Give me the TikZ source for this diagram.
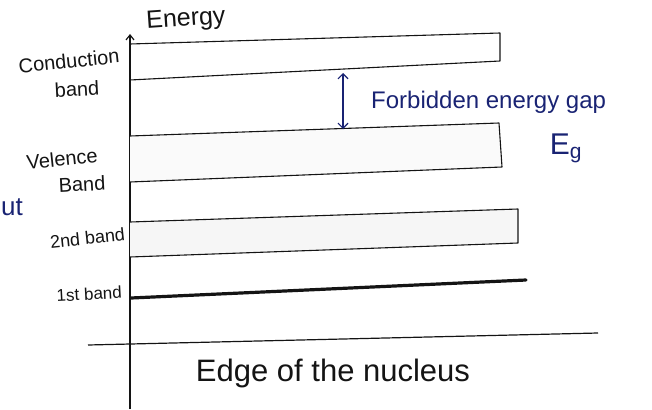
\documentclass[tikz,border=0pt]{standalone}
\usepackage{fontspec}
\setmainfont{Liberation Sans}
\usetikzlibrary{arrows.meta}
\definecolor{inkblue}{RGB}{25,35,115}
\definecolor{inkblack}{RGB}{20,20,20}
\begin{document}
\begin{tikzpicture}[x=1pt,y=-1pt,
  band/.style={draw=inkblack, line width=1.1pt, line join=round},
  axisline/.style={draw=inkblack, line width=1.2pt},
  lbl/.style={text=inkblack, font=\fontsize{18}{17}\selectfont, inner sep=0pt},
  bluelbl/.style={text=inkblue, font=\fontsize{24}{24}\selectfont, inner sep=0pt}]
\useasboundingbox (0,0) rectangle (652,409);
% axes
\coordinate (axtop) at (130,34);
\coordinate (axbot) at (130,409);
\coordinate (baseL) at (88,345);
\coordinate (baseR) at (598,333);
\draw[axisline, -{Straight Barb[length=5pt,width=8pt]}] (axbot) -- (axtop);
\draw[axisline] (baseL) -- (baseR);
% conduction band
\draw[band] (130,44) -- (500,33) -- (500,61) -- (130,80);
% valence band
\draw[band, fill=gray!4] (130,136) -- (499,123) -- (502,167) -- (130,182);
% 2nd band
\draw[band, fill=gray!7] (130,222) -- (518,209) -- (518,243) -- (130,257);
% 1st band
\draw[draw=inkblack, line width=3.2pt, line cap=round] (131,298) -- (526,280);
% forbidden gap arrow
\coordinate (gapT) at (343,73);
\coordinate (gapB) at (343,129);
\draw[inkblue, line width=1.2pt, {Straight Barb[length=5pt,width=10pt]}-{Straight Barb[length=5pt,width=10pt]}] (gapT) -- (gapB);
% labels
\node[font=\fontsize{25}{25}\selectfont, text=inkblack, inner sep=0pt, rotate=4] (energy) at (186,20) {Energy};
\node[lbl, font=\fontsize{20}{20}\selectfont, rotate=6] (cb1) at (69,61) {Conduction};
\node[lbl, font=\fontsize{20}{20}\selectfont, rotate=3] (cb2) at (77,89) {band};
\node[lbl, font=\fontsize{20}{20}\selectfont, rotate=6] (vb1) at (62,159) {Velence};
\node[lbl, font=\fontsize{20}{20}\selectfont, rotate=3] (vb2) at (82,184) {Band};
\node[lbl, anchor=east, rotate=6] (b2) at (125,234) {2nd band};
\node[lbl, font=\fontsize{17}{17}\selectfont, anchor=east, rotate=3] (b1) at (122,292) {1st band};
\node[font=\fontsize{31}{31}\selectfont, text=inkblack, inner sep=0pt] (edge) at (333,373) {Edge of the nucleus};
\node[bluelbl, anchor=west] (fg) at (371,102) {Forbidden energy gap};
\node[bluelbl, font=\fontsize{30}{30}\selectfont] (eg) at (566,148) {E\textsubscript{g}};
\node[bluelbl, font=\fontsize{26}{26}\selectfont, anchor=west] (ut) at (1,207) {ut};
\end{tikzpicture}
\end{document}
